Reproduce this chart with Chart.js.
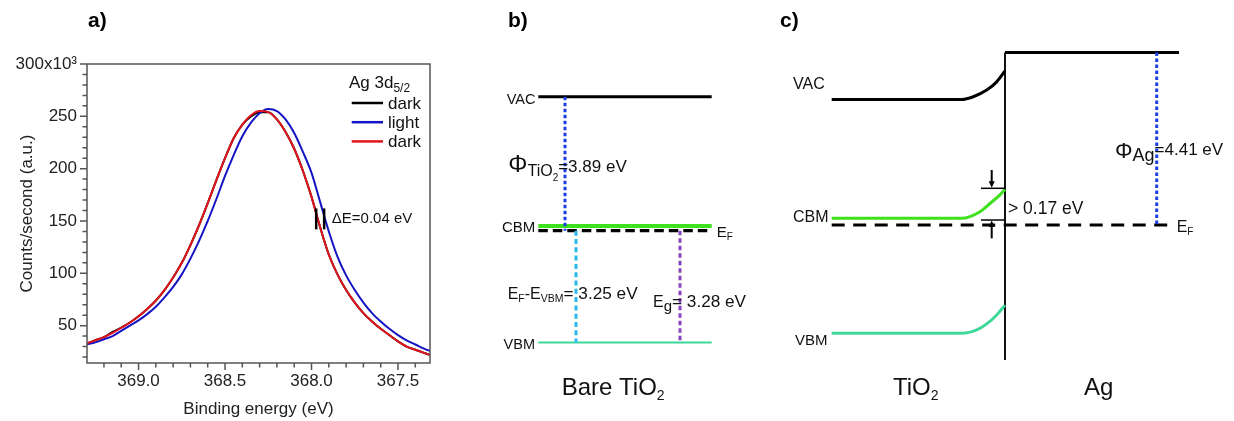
<!DOCTYPE html>
<html><head><meta charset="utf-8">
<script src="https://cdn.jsdelivr.net/npm/chart.js@4"></script>
<style>
html,body{margin:0;padding:0;background:#fff;}
#wrap{position:relative;width:1234px;height:421px;overflow:hidden;background:#fff;}
canvas{position:absolute;top:0;}
#ca{left:0;} #cb{left:470px;}
.pl{position:absolute;font:bold 21px "Liberation Sans",Arial,sans-serif;line-height:21px;color:#000;}
</style></head><body>
<div id="wrap">
<canvas id="ca" width="470" height="421"></canvas>
<canvas id="cb" width="764" height="421"></canvas>
<div class="pl" style="left:88px;top:9px">a)</div>
<div class="pl" style="left:508px;top:9px">b)</div>
<div class="pl" style="left:780px;top:9px">c)</div>
</div>
<script>
const FONT = '"Liberation Sans", Arial, sans-serif';
Chart.defaults.font.family = FONT;
Chart.defaults.color = '#222';
Chart.defaults.animation = false;

// ---------- Panel a: Ag 3d5/2 XPS ----------
const energy = [369.30,369.25,369.20,369.15,369.10,369.05,369.00,368.95,368.90,368.85,368.80,368.75,368.70,368.65,368.60,368.55,368.50,368.45,368.40,368.35,368.30,368.25,368.20,368.15,368.10,368.05,368.00,367.95,367.90,367.85,367.80,367.75,367.70,367.65,367.60,367.55,367.50,367.45,367.40,367.35,367.30];
const darkBefore = [33,36,39,44,48,53,59,66,74,84,96,110,127,146,167,189,210,229,242,250,254,254,247,235,219,198,173,144,118,99,84,72,62,54,47,41,35,30,27,24,21];
const lightOn    = [32,34,37,40,45,50,55,61,68,77,87,99,114,131,150,171,193,213,231,244,253,257,255,247,234,216,196,168,140,116,98,84,72,62,54,47,41,36,32,28,25];
const darkAfter  = [33,36,39,43,48,53,59,66,74,84,96,110,127,146,167,189,210,229,242,251,255,254,247,235,219,198,173,144,118,99,84,72,62,54,47,41,35,30,27,24,21];
const seriesNames = ['dark','light','dark'];
const seriesColors = ['#000000','#1414c4','#e3141c'];
const legendTitle = ['Ag 3d','5/2'];
const xMajorTicks = [369.0,368.5,368.0,367.5];
const xTickLabels = ['369.0','368.5','368.0','367.5'];
const xMinorTicks = [369.2,369.1,368.9,368.8,368.7,368.6,368.4,368.3,368.2,368.1,367.9,367.8,367.7,367.6,367.4];
const yMajorTicks = [50,100,150,200,250,300];
const yTickLabels = ['50','100','150','200','250','300x10\u00B3'];
const yMinorTicks = [20,30,40,60,70,80,90,110,120,130,140,160,170,180,190,210,220,230,240,260,270,280,290];
const deltaEMarks = [367.973,367.927];
const deltaERange = [142,162];
const deltaELabel = {x:367.883, y:147.7, text:'\u0394E=0.04 eV'};

function series(vals, color, order){
  return {data: energy.map((e,i)=>({x:e,y:vals[i]})), borderColor:color, borderWidth:2, order,
    pointRadius:0, showLine:true, cubicInterpolationMode:'monotone', fill:false};
}
function vmark(xv){
  return {data: deltaERange.map(v=>({x:xv,y:v})), borderColor:'#000', borderWidth:2.5, pointRadius:0, showLine:true, order:0};
}

function drawRich(ctx, x, y, segs, align){
  let w = 0;
  const m = segs.map(s=>{ctx.font = s[1]+'px '+FONT; const ww = ctx.measureText(s[0]).width; w += ww; return ww;});
  let cx = align==='right' ? x-w : align==='center' ? x-w/2 : x;
  ctx.textAlign='left'; ctx.textBaseline='alphabetic';
  segs.forEach((s,i)=>{ctx.font = s[1]+'px '+FONT; ctx.fillText(s[0], cx, y+(s[2]||0)); cx += m[i];});
}

const axesPlugin = {
  id:'axesA',
  afterDraw(chart){
    const {ctx, chartArea:a, scales:{x,y}} = chart;
    ctx.save();
    ctx.strokeStyle='#555'; ctx.lineWidth=1.5;
    ctx.strokeRect(a.left, a.top, a.right-a.left, a.bottom-a.top);
    ctx.beginPath();
    xMajorTicks.forEach(v=>{const p=x.getPixelForValue(v); ctx.moveTo(p,a.bottom); ctx.lineTo(p,a.bottom+7);});
    xMinorTicks.forEach(v=>{const p=x.getPixelForValue(v); ctx.moveTo(p,a.bottom); ctx.lineTo(p,a.bottom+4.5);});
    yMajorTicks.forEach(v=>{const p=y.getPixelForValue(v); ctx.moveTo(a.left,p); ctx.lineTo(a.left-7,p);});
    yMinorTicks.forEach(v=>{const p=y.getPixelForValue(v); ctx.moveTo(a.left,p); ctx.lineTo(a.left-4.5,p);});
    ctx.stroke();
    // legend
    ctx.fillStyle='#111';
    drawRich(ctx, a.right-81, a.top+24, [[legendTitle[0],17,0],[legendTitle[1],12,4]], 'left');
    seriesNames.forEach((n,i)=>{
      const yy = a.top + 39 + i*19.2;
      ctx.strokeStyle = seriesColors[i]; ctx.lineWidth = 2.5;
      ctx.beginPath(); ctx.moveTo(a.right-78.3, yy); ctx.lineTo(a.right-47, yy); ctx.stroke();
      ctx.fillStyle='#111';
      drawRich(ctx, a.right-42, yy+6, [[n,17,0]], 'left');
    });
    // delta E label
    drawRich(ctx, x.getPixelForValue(deltaELabel.x), y.getPixelForValue(deltaELabel.y), [[deltaELabel.text,15,0]], 'left');
    ctx.restore();
  }
};

new Chart(document.getElementById('ca'), {
  type:'scatter',
  data:{datasets:[series(darkBefore,seriesColors[0],3), series(lightOn,seriesColors[1],2), series(darkAfter,seriesColors[2],1), vmark(deltaEMarks[0]), vmark(deltaEMarks[1])]},
  options:{
    responsive:false, animation:false,
    layout:{padding:{top:64,right:40,left:0,bottom:0}},
    plugins:{legend:{display:false}, tooltip:{enabled:false}},
    scales:{
      x:{type:'linear', reverse:true, min:367.315, max:369.298,
        afterBuildTicks:s=>{s.ticks = xMajorTicks.map(v=>({value:v}));},
        afterFit:s=>{s.height = 58;},
        ticks:{autoSkip:false, maxRotation:0, padding:8, font:{size:17}, color:'#222', callback:(v,i)=>xTickLabels[i]},
        grid:{display:false, drawTicks:false}, border:{display:false},
        title:{display:true, text:'Binding energy (eV)', font:{size:17}, color:'#222', padding:{top:0,bottom:1}}},
      y:{type:'linear', min:14.3, max:300,
        afterBuildTicks:s=>{s.ticks = yMajorTicks.map(v=>({value:v}));},
        afterFit:s=>{s.width = 87;},
        ticks:{autoSkip:false, padding:10, font:{size:17}, color:'#222', callback:(v,i)=>yTickLabels[i]},
        grid:{display:false, drawTicks:false}, border:{display:false},
        title:{display:true, text:'Counts/second (a.u.)', font:{size:17}, color:'#222', padding:{top:17,bottom:0}}}
    }
  },
  plugins:[axesPlugin]
});

// ---------- Panels b and c: band diagrams (energy vs E_F, diagram units) ----------
// panel b: bare TiO2
const bLevelNames = ['VAC','CBM','EF','VBM'];
const bLevels = [3.89, 0.14, 0, -3.25];
const bLevelSpan = [6.83, 24.17];
const bGapNames = ['PhiTiO2','EF-EVBM','Eg'];
const bGapX = [9.5, 10.6, 21.0];
const bGapFrom = [3.89, 0, 0];
const bGapTo = [0, -3.25, -3.25];
// panel c: TiO2 / Ag junction
const cVacX = [36.17,49.17,50.33,51.67,52.67,53.5];
const cVacY = [3.21,3.21,3.28,3.45,3.66,3.94];
const cCbmX = [36.17,49.17,51.0,52.0,53.0,53.5];
const cCbmY = [0.17,0.17,0.34,0.55,0.77,0.91];
const cVbmX = [36.17,49.17,50.67,51.67,52.67,53.5];
const cVbmY = [-2.77,-2.77,-2.685,-2.53,-2.30,-2.05];
const cInterfaceX = 53.5;
const cInterfaceY = [4.41, -3.45];
const cAgVac = 4.41;
const cAgSpan = [53.5, 70.9];
const cEFSpan = [36.17, 70.3];
const cPhiAgX = 68.67;
const cArrowX = 52.17;
const cTickSpan = [51.1, 53.5];
const cArrowTips = [0.938, 0.127];
const cArrowTails = [1.406, -0.341];

const GREEN = '#3fe01e', MINT = '#3fd898', BLUE = '#1e3fe0', CYAN = '#2ab8ec', PURPLE = '#8a42c0';

function line(xs, ys, axis, color, width, dash, smooth){
  return {data: xs.map((x,i)=>({x, y: ys[i]})), yAxisID: axis, borderColor: color, borderWidth: width,
    borderDash: dash || [], pointRadius: 0, showLine: true, fill:false,
    cubicInterpolationMode: smooth ? 'monotone' : 'default'};
}

const bcDatasets = [
  // panel b verticals
  line([bGapX[0],bGapX[0]], [bGapFrom[0],bGapTo[0]], 'yb', BLUE, 3, [3.5,2.5]),
  line([bGapX[1],bGapX[1]], [bGapFrom[1],bGapTo[1]], 'yb', CYAN, 3, [5,3.3]),
  line([bGapX[2],bGapX[2]], [bGapFrom[2],bGapTo[2]], 'yb', PURPLE, 3, [4.5,3]),
  // panel b levels
  line(bLevelSpan, [bLevels[0],bLevels[0]], 'yb', '#000', 3),
  line(bLevelSpan, [bLevels[3],bLevels[3]], 'yb', MINT, 2),
  line(bLevelSpan, [bLevels[1],bLevels[1]], 'yb', GREEN, 4),
  line(bLevelSpan, [bLevels[2],bLevels[2]], 'yb', '#000', 3.3, [9.5,5]),
  // panel c
  line([cPhiAgX,cPhiAgX], [cAgVac,0], 'yc', BLUE, 3, [3.5,2.5]),
  line(cVacX, cVacY, 'yc', '#000', 3, null, true),
  line(cCbmX, cCbmY, 'yc', GREEN, 3, null, true),
  line(cVbmX, cVbmY, 'yc', MINT, 3, null, true),
  line(cEFSpan, [0,0], 'yc', '#000', 3, [13,8.5]),
  line([cInterfaceX,cInterfaceX], cInterfaceY, 'yc', '#111', 2),
  line(cAgSpan, [cAgVac,cAgVac], 'yc', '#000', 3)
];

const bcTexts = [
  {ax:'yb', x:6.55, y:3.677, align:'right', segs:[['VAC',14.5,0]]},
  {ax:'yb', x:6.53, y:-0.041, align:'right', segs:[['CBM',15,0]]},
  {ax:'yb', x:6.5, y:-3.446, align:'right', segs:[['VBM',14.5,0]]},
  {ax:'yb', x:24.67, y:-0.183, align:'left', segs:[['E',15,0],['F',10,3]]},
  {ax:'yb', x:3.83, y:1.715, align:'left', segs:[['\u03A6',24,0],['TiO',16,4],['2',10,9],['=3.89 eV',17,0]]},
  {ax:'yb', x:3.77, y:-1.995, align:'left', segs:[['E',16,0],['F',10.5,3],['-E',16,0],['VBM',10.5,3],['= 3.25 eV',17.2,0]]},
  {ax:'yb', x:18.3, y:-2.227, align:'left', segs:[['E',16,0],['g',15,4],['= 3.28 eV',17.2,0]]},
  {ax:'yb', x:9.17, y:-4.785, align:'left', segs:[['Bare TiO',24,0],['2',14,5]]},
  {ax:'yc', x:32.3, y:3.485, align:'left', segs:[['VAC',16,0]]},
  {ax:'yc', x:32.3, y:0.089, align:'left', segs:[['CBM',16,0]]},
  {ax:'yc', x:32.5, y:-3.072, align:'left', segs:[['VBM',15,0]]},
  {ax:'yc', x:70.67, y:-0.167, align:'left', segs:[['E',16,0],['F',10,3.5]]},
  {ax:'yc', x:64.5, y:1.764, align:'left', segs:[['\u03A6',22,1.5],['Ag',18,5],['=4.41 eV',17,-1]]},
  {ax:'yc', x:53.8, y:0.281, align:'left', segs:[['> 0.17 eV',17.5,0]]},
  {ax:'yc', x:42.3, y:-4.356, align:'left', segs:[['TiO',24,0],['2',14,5]]},
  {ax:'yc', x:61.4, y:-4.348, align:'left', segs:[['Ag',24,0]]}
];

const bcPlugin = {
  id:'bcText',
  afterDatasetsDraw(chart){
    const {ctx, scales} = chart;
    const X = scales.x;
    ctx.save();
    ctx.fillStyle = '#111';
    bcTexts.forEach(t=>{
      drawRich(ctx, X.getPixelForValue(t.x), scales[t.ax].getPixelForValue(t.y), t.segs, t.align);
    });
    // band-bending arrows in panel c
    const Y = scales.yc;
    ctx.strokeStyle = '#000'; ctx.fillStyle = '#000'; ctx.lineWidth = 1.5;
    const x0 = X.getPixelForValue(cTickSpan[0]), x1 = X.getPixelForValue(cTickSpan[1]);
    const ax = X.getPixelForValue(cArrowX);
    cArrowTips.forEach((tip,i)=>{
      const py = Y.getPixelForValue(tip), pt = Y.getPixelForValue(cArrowTails[i]);
      ctx.beginPath(); ctx.moveTo(x0,py); ctx.lineTo(x1,py); ctx.stroke();
      const s = Math.sign(py-pt);
      ctx.lineWidth = 2;
      ctx.beginPath(); ctx.moveTo(ax,pt); ctx.lineTo(ax,py-s*5); ctx.stroke();
      ctx.beginPath(); ctx.moveTo(ax,py-s*0.5); ctx.lineTo(ax-3,py-s*7); ctx.lineTo(ax+3,py-s*7); ctx.closePath(); ctx.fill();
      ctx.lineWidth = 1.5;
    });
    ctx.restore();
  }
};

new Chart(document.getElementById('cb'), {
  type:'scatter',
  data:{datasets: bcDatasets},
  options:{
    responsive:false, animation:false,
    layout:{padding:0},
    plugins:{legend:{display:false}, tooltip:{enabled:false}},
    scales:{
      x:{type:'linear', display:false, min:0, max:76.4},
      yb:{type:'linear', display:false, min:-5.532, max:6.706},
      yc:{type:'linear', display:false, min:-5.013, max:5.754}
    }
  },
  plugins:[bcPlugin]
});
</script>
</body></html>
